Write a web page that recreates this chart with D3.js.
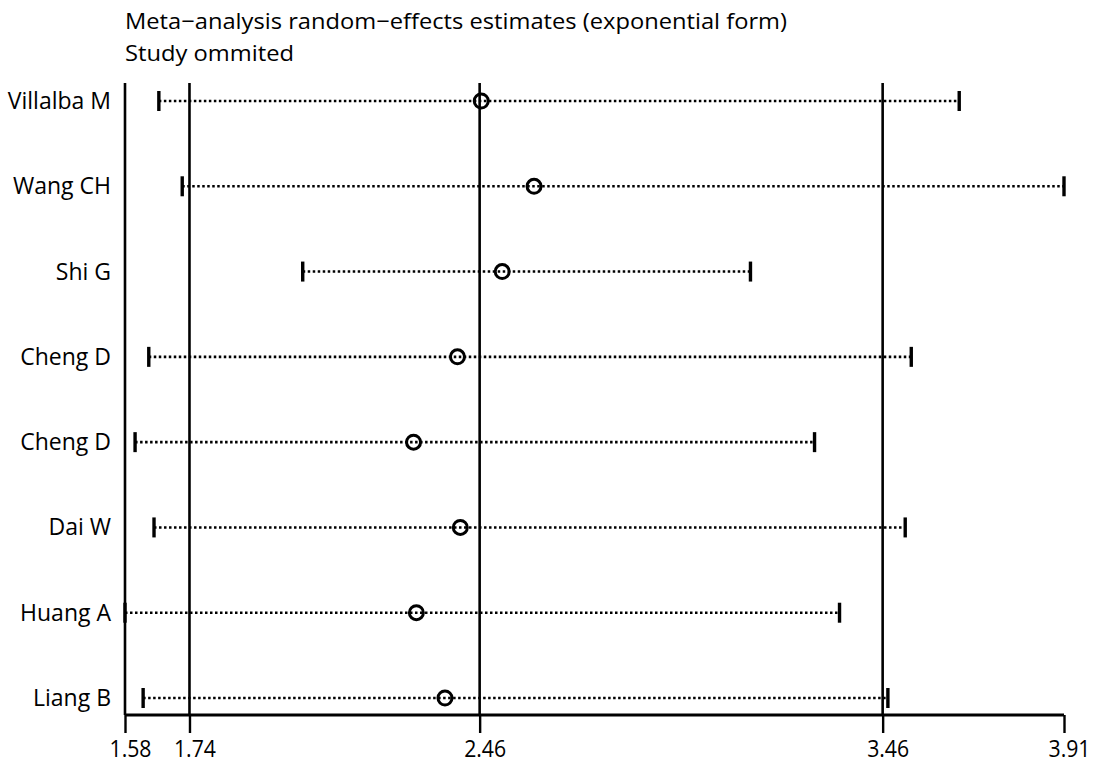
<!DOCTYPE html>
<html>
<head>
<meta charset="utf-8">
<script src="https://cdn.jsdelivr.net/npm/d3@7"></script>
<style>
  html, body { margin: 0; padding: 0; background: #fff; }
  svg { display: block; }
  text { font-family: "Open Sans", "Lato", sans-serif; fill: #000; }
</style>
</head>
<body>
<svg id="chart" width="1099" height="763"></svg>
<script>
// ---- data ----
const studies = ["Villalba M", "Wang CH", "Shi G", "Cheng D", "Cheng D", "Dai W", "Huang A", "Liang B"];
const estimates = [2.464, 2.595, 2.516, 2.405, 2.296, 2.412, 2.303, 2.374];
const lowerCI   = [1.664, 1.722, 2.021, 1.639, 1.605, 1.652, 1.580, 1.625];
const upperCI   = [3.650, 3.910, 3.132, 3.531, 3.291, 3.516, 3.353, 3.473];
const refLines  = [1.74, 2.46, 3.46];          // overall CI low, estimate, CI high
const axisTicks = [1.58, 1.74, 2.46, 3.46, 3.91];
const axisDomain = [1.58, 3.91];
const titleLines = ["Meta\u2212analysis random\u2212effects estimates (exponential form)", "Study ommited"];

// ---- layout ----
const svg = d3.select("#chart");
const x = d3.scaleLinear().domain(axisDomain).range([125, 1064]);
const y = d3.scalePoint().domain(d3.range(studies.length)).range([101, 698]);
const plotTop = 83, plotBottom = 715;

// title
svg.append("g").selectAll("text").data(titleLines).join("text")
  .attr("x", 125).attr("y", (d, i) => 29 + i * 32)
  .attr("font-size", 22)
  .attr("textLength", (d, i) => i === 0 ? 662 : 169)
  .attr("lengthAdjust", "spacingAndGlyphs")
  .text(d => d);

// vertical reference lines (left edge + overall estimates)
svg.append("g").selectAll("line").data([axisDomain[0]].concat(refLines)).join("line")
  .attr("x1", d => x(d)).attr("x2", d => x(d))
  .attr("y1", plotTop).attr("y2", plotBottom)
  .attr("stroke", "#000").attr("stroke-width", 2.6);

// x axis
const xAxis = d3.axisBottom(x).tickValues(axisTicks).tickSize(18).tickSizeOuter(0)
  .tickFormat(d3.format(".2f"));
const gx = svg.append("g").attr("transform", `translate(0,${plotBottom})`).call(xAxis);
gx.select(".domain").attr("stroke-width", 3).attr("d", `M${x(axisDomain[0])},0H${x(axisDomain[1])}`);
gx.selectAll(".tick line").attr("stroke-width", 2.4);
gx.selectAll(".tick text").attr("font-size", 23).attr("dy", "0.71em").attr("y", 26).attr("x", 5)
  .attr("font-family", "'Open Sans', sans-serif")
  .attr("textLength", 42).attr("lengthAdjust", "spacingAndGlyphs");

// rows
const rows = svg.append("g").selectAll("g").data(studies.map((s, i) => i)).join("g")
  .attr("transform", i => `translate(0,${y(i)})`);

rows.append("text")
  .attr("x", 111).attr("y", 0).attr("dy", "0.35em")
  .attr("text-anchor", "end").attr("font-size", 23)
  .text(i => studies[i]);

rows.append("line")
  .attr("x1", i => x(lowerCI[i])).attr("x2", i => x(upperCI[i]))
  .attr("stroke", "#000").attr("stroke-width", 2.6).attr("stroke-dasharray", "2.5,2.5");

rows.append("line").attr("class", "capL")
  .attr("x1", i => x(lowerCI[i])).attr("x2", i => x(lowerCI[i]))
  .attr("y1", -10).attr("y2", 10)
  .attr("stroke", "#000").attr("stroke-width", 3.4);

rows.append("line").attr("class", "capU")
  .attr("x1", i => x(upperCI[i])).attr("x2", i => x(upperCI[i]))
  .attr("y1", -10).attr("y2", 10)
  .attr("stroke", "#000").attr("stroke-width", 3.4);

rows.append("circle")
  .attr("cx", i => x(estimates[i])).attr("cy", 0).attr("r", 7)
  .attr("fill", "none").attr("stroke", "#000").attr("stroke-width", 3);
</script>
</body>
</html>
